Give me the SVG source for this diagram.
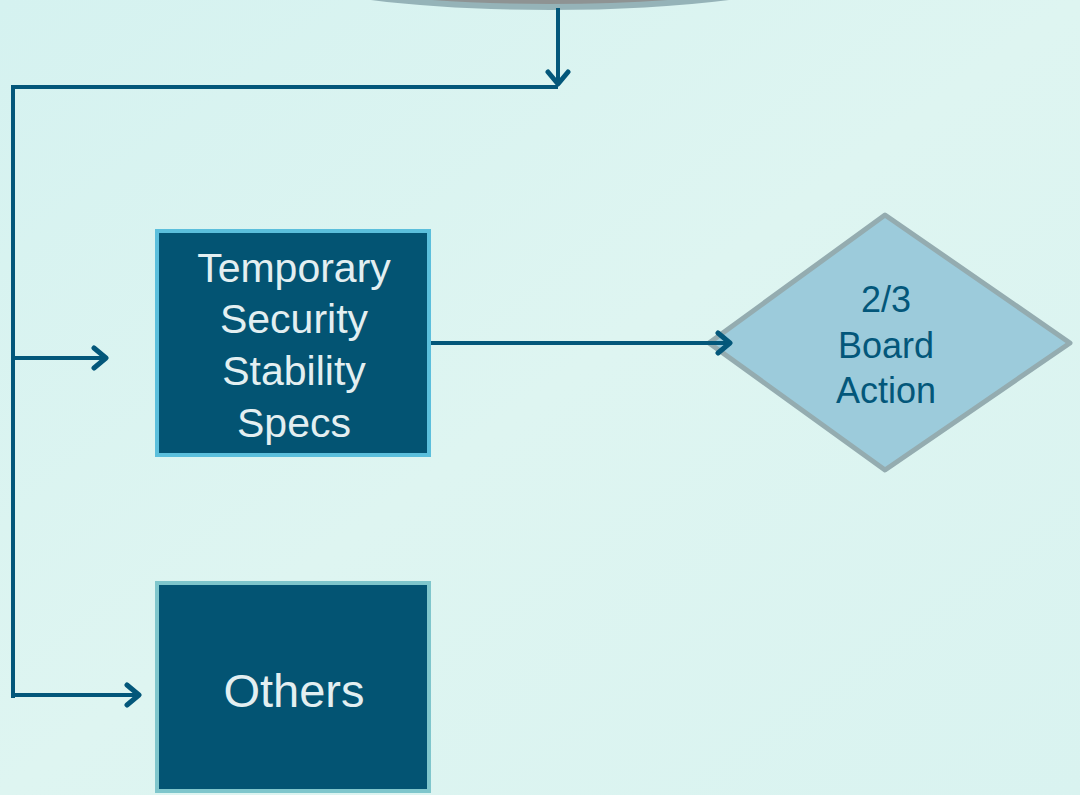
<svg xmlns="http://www.w3.org/2000/svg" width="1080" height="795" viewBox="0 0 1080 795">
<style>
.conn{fill:none;stroke:#03577a;stroke-width:4;stroke-linejoin:miter}
.box{fill:#035473;stroke-width:4}
.lt{font-family:"Liberation Sans",Arial,sans-serif;font-size:41px;fill:#e3eff1;text-anchor:middle}
.dt{font-family:"Liberation Sans",Arial,sans-serif;font-size:36px;fill:#03577a;text-anchor:middle}
</style>
<defs>
<linearGradient id="bg" x1="0" y1="0" x2="1" y2="1">
<stop offset="0" stop-color="#d5f2f0"/>
<stop offset="0.5" stop-color="#def5f1"/>
<stop offset="1" stop-color="#d9f3f0"/>
</linearGradient>
<marker id="ah" viewBox="0 0 26 26" refX="21" refY="13" markerWidth="26" markerHeight="26" markerUnits="userSpaceOnUse" orient="auto">
<polyline points="9,3 21,13 9,23" fill="none" stroke="#03577a" stroke-width="5" stroke-linecap="round" stroke-linejoin="round"/>
</marker>
</defs>
<rect width="1080" height="795" fill="url(#bg)"/>
<g id="top-node">
<ellipse cx="550" cy="-61" rx="340" ry="68" fill="#8e9393" stroke="#95b3b8" stroke-width="6"/>
</g>
<g id="node-temporary">
<rect class="box" x="157" y="231" width="272" height="224" stroke="#5bbfdc"/>
<text class="lt" x="294" y="282">Temporary</text>
<text class="lt" x="294" y="333">Security</text>
<text class="lt" x="294" y="385">Stability</text>
<text class="lt" x="294" y="437">Specs</text>
</g>
<g id="node-board">
<polygon points="709,343 885,215 1070,343 885,470" fill="#9ccbdb" stroke="#94acb0" stroke-width="5" stroke-linejoin="round"/>
<text class="dt" x="886" y="312">2/3</text>
<text class="dt" x="886" y="358">Board</text>
<text class="dt" x="886" y="403">Action</text>
</g>
<g id="node-others">
<rect class="box" x="157" y="583" width="272" height="208" stroke="#7fc6cc"/>
<text class="lt" x="294" y="707" style="font-size:47px">Others</text>
</g>
<g id="connectors">
<line class="conn" x1="558" y1="8" x2="558" y2="84" marker-end="url(#ah)"/>
<polyline class="conn" points="558,87 13,87 13,698"/>
<line class="conn" x1="13" y1="358" x2="106" y2="358" marker-end="url(#ah)"/>
<line class="conn" x1="13" y1="695" x2="139" y2="695" marker-end="url(#ah)"/>
<line class="conn" x1="431" y1="343" x2="730" y2="343" marker-end="url(#ah)"/>
</g>
</svg>
